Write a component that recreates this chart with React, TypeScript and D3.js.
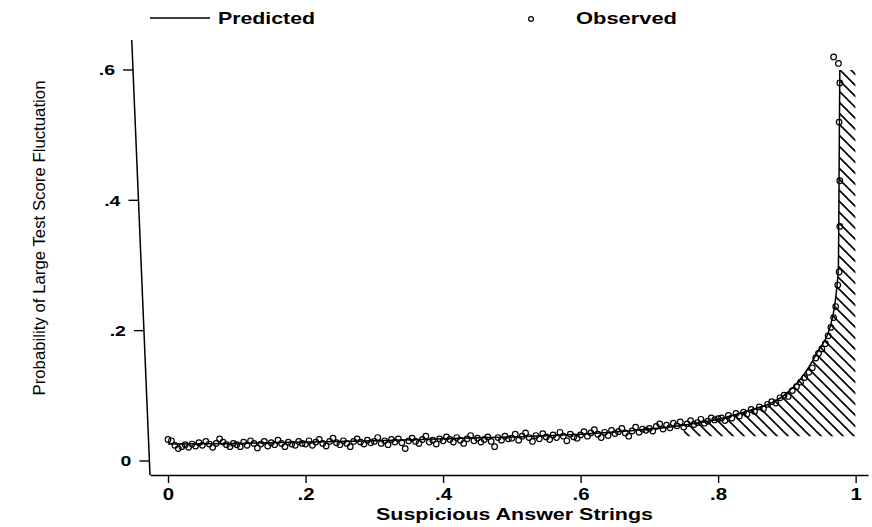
import React, { useEffect, useRef } from 'react';
import * as d3 from 'd3';

const width = 872;
const height = 527;

const xTicks = [0, 0.2, 0.4, 0.6, 0.8, 1];
const yTicks = [0, 0.2, 0.4, 0.6];

// predicted curve
const predictedX = [0, 0.1, 0.2, 0.3, 0.4, 0.5, 0.6, 0.7, 0.75, 0.8, 0.85, 0.875, 0.895, 0.92, 0.945, 0.964, 0.972, 0.975, 0.976, 0.977];
const predictedY = [0.026, 0.027, 0.029, 0.031, 0.034, 0.037, 0.041, 0.049, 0.055, 0.064, 0.079, 0.088, 0.1, 0.126, 0.168, 0.21, 0.26, 0.3, 0.45, 0.6];

// observed, x = 0 .. 0.80 in steps of .005
const observedStep = 0.005;
const observedBody = [
  0.033, 0.031, 0.024, 0.019, 0.022, 0.025, 0.021, 0.026, 0.023, 0.028, 0.024, 0.030, 0.026, 0.021, 0.027, 0.034, 0.029, 0.025, 0.022, 0.027,
  0.025, 0.022, 0.029, 0.024, 0.031, 0.027, 0.020, 0.026, 0.030, 0.023, 0.028, 0.025, 0.032, 0.027, 0.022, 0.029, 0.026, 0.024, 0.030, 0.027,
  0.026, 0.031, 0.024, 0.029, 0.033, 0.027, 0.023, 0.030, 0.035, 0.028, 0.025, 0.031, 0.027, 0.022, 0.030, 0.034, 0.029, 0.026, 0.032, 0.028,
  0.030, 0.036, 0.027, 0.031, 0.025, 0.033, 0.029, 0.034, 0.028, 0.019, 0.031, 0.035, 0.030, 0.027, 0.033, 0.038, 0.029, 0.032, 0.026, 0.034,
  0.031, 0.037, 0.033, 0.029, 0.036, 0.032, 0.027, 0.034, 0.039, 0.031, 0.035, 0.029, 0.033, 0.037, 0.030, 0.022, 0.036, 0.032, 0.038, 0.034,
  0.035, 0.041, 0.032, 0.038, 0.043, 0.036, 0.030, 0.039, 0.034, 0.042, 0.037, 0.033, 0.040, 0.036, 0.044, 0.038, 0.031, 0.041, 0.037, 0.035,
  0.040, 0.045, 0.038, 0.043, 0.048, 0.041, 0.036, 0.044, 0.039, 0.047, 0.042, 0.045, 0.050, 0.043, 0.038, 0.046, 0.052, 0.044, 0.049, 0.047,
  0.050, 0.046, 0.053, 0.057, 0.049, 0.055, 0.051, 0.058, 0.054, 0.060, 0.052, 0.057, 0.062, 0.056, 0.059, 0.064, 0.058, 0.061, 0.066, 0.063,
  0.065,
];
const observedTail = [
  [0.805, 0.066], [0.81, 0.062], [0.815, 0.07], [0.82, 0.066], [0.826, 0.073], [0.831, 0.069], [0.837, 0.075], [0.842, 0.072],
  [0.848, 0.079], [0.853, 0.076], [0.86, 0.083], [0.866, 0.08], [0.872, 0.087], [0.878, 0.091], [0.884, 0.089], [0.89, 0.097],
  [0.896, 0.101], [0.902, 0.099], [0.908, 0.108], [0.914, 0.114], [0.92, 0.121], [0.926, 0.128], [0.932, 0.136], [0.937, 0.143],
  [0.942, 0.158], [0.946, 0.165], [0.951, 0.172], [0.956, 0.18], [0.96, 0.192], [0.964, 0.205], [0.968, 0.22], [0.971, 0.237],
  [0.974, 0.27], [0.976, 0.29], [0.977, 0.36], [0.977, 0.43], [0.976, 0.52], [0.977, 0.58], [0.975, 0.61], [0.968, 0.62],
];

// hatched region: under the predicted curve, right of this x, above this level
const hatchFrom = 0.74;
const hatchBase = 0.038;

const font = '"Liberation Sans", Arial, sans-serif';

const fmt = (d: number) => (d === 0 ? '0' : d === 1 ? '1' : String(d).replace('0.', '.'));

// the scan is stretched sideways, so widen text to match
const widen = (sel: any, k: number) => {
  sel.each(function (this: SVGTextElement) {
    const w = this.getComputedTextLength();
    d3.select(this).attr('textLength', w * k).attr('lengthAdjust', 'spacingAndGlyphs');
  });
};

const App = () => {
  const svgRef = useRef<SVGSVGElement>(null);

  useEffect(() => {
    const svg = d3.select(svgRef.current);
    svg.selectAll('*').remove();

    const x = d3.scaleLinear().domain([-0.0262, 1.018]).range([150, 868]);
    const y = d3.scaleLinear().domain([-0.0215, 0.646]).range([475, 40]);

    const predicted = predictedX.map((v, i) => [v, predictedY[i]]);
    const observed = observedBody.map((v, i) => [i * observedStep, v]).concat(observedTail);

    // hatch pattern
    const defs = svg.append('defs');
    const pat = defs.append('pattern')
      .attr('id', 'hatch')
      .attr('patternUnits', 'userSpaceOnUse')
      .attr('width', 11)
      .attr('height', 11);
    pat.append('path')
      .attr('d', 'M-1,-1L12,12M-1,10L1,12M10,-1L12,1')
      .attr('stroke', '#000')
      .attr('stroke-width', 1.6);

    const hatchData = predicted.filter(d => d[0] >= hatchFrom - 0.02).concat([[1, 0.6]]);
    const area = d3.area()
      .x(d => x(d[0]))
      .y0(y(hatchBase))
      .y1(d => y(d[1]))
      .curve(d3.curveMonotoneX);
    defs.append('clipPath').attr('id', 'hclip')
      .append('rect')
      .attr('x', x(hatchFrom)).attr('y', 0)
      .attr('width', x(1) - x(hatchFrom)).attr('height', height);
    svg.append('path')
      .attr('d', area(hatchData))
      .attr('fill', 'url(#hatch)')
      .attr('clip-path', 'url(#hclip)');

    // predicted line
    const line = d3.line()
      .x(d => x(d[0]))
      .y(d => y(d[1]))
      .curve(d3.curveMonotoneX);
    svg.append('path')
      .attr('d', line(predicted))
      .attr('fill', 'none')
      .attr('stroke', '#000')
      .attr('stroke-width', 1.5);

    // observed points
    svg.append('g')
      .selectAll('circle')
      .data(observed)
      .enter()
      .append('circle')
      .attr('cx', d => x(d[0]))
      .attr('cy', d => y(d[1]))
      .attr('r', 2.8)
      .attr('fill', 'none')
      .attr('stroke', '#000')
      .attr('stroke-width', 1.2);

    // x axis
    const xAxis = d3.axisBottom(x).tickValues(xTicks).tickFormat(fmt).tickSize(8).tickSizeOuter(0);
    const gx = svg.append('g').attr('transform', 'translate(0,475)').call(xAxis);
    gx.select('.domain').attr('stroke', '#000').attr('stroke-width', 1.5);
    gx.selectAll('.tick line').attr('stroke', '#000').attr('stroke-width', 1.4);
    gx.selectAll('text')
      .attr('fill', '#000').attr('y', 25).attr('dy', 0)
      .style('font', `bold 17px ${font}`);
    widen(gx.selectAll('text'), 1.2);

    // y axis, leaning a little like the scanned original
    const lean = (py: number) => (py - 475) * 17 / 405;
    const yAxis = d3.axisLeft(y).tickValues(yTicks).tickFormat(fmt).tickSize(10).tickSizeOuter(0).tickPadding(8);
    const gy = svg.append('g').attr('transform', 'translate(150,0)').call(yAxis);
    gy.selectAll('.tick').attr('transform', (d: any) => `translate(${lean(y(d))},${y(d)})`);
    gy.select('.domain')
      .attr('d', `M${lean(40)},40L0,475`)
      .attr('stroke', '#000')
      .attr('stroke-width', 1.5);
    gy.selectAll('.tick line').attr('stroke', '#000').attr('stroke-width', 1.4);
    gy.selectAll('text')
      .attr('fill', '#000').attr('dy', '0.36em')
      .style('font', `bold 15px ${font}`);
    widen(gy.selectAll('text'), 1.3);

    // axis titles
    svg.append('text')
      .attr('x', 376).attr('y', 520)
      .attr('textLength', 277)
      .attr('lengthAdjust', 'spacingAndGlyphs')
      .style('font', `bold 16px ${font}`)
      .text('Suspicious Answer Strings');
    svg.append('text')
      .attr('transform', 'translate(45,238) rotate(-90)')
      .attr('text-anchor', 'middle')
      .attr('textLength', 315)
      .attr('lengthAdjust', 'spacingAndGlyphs')
      .style('font', `17px ${font}`)
      .text('Probability of Large Test Score Fluctuation');

    // legend
    const lg = svg.append('g');
    lg.append('line')
      .attr('x1', 150).attr('x2', 210).attr('y1', 18).attr('y2', 18)
      .attr('stroke', '#000').attr('stroke-width', 1.5);
    lg.append('text')
      .attr('x', 218).attr('y', 24)
      .attr('textLength', 97)
      .attr('lengthAdjust', 'spacingAndGlyphs')
      .style('font', `bold 17px ${font}`)
      .text('Predicted');
    lg.append('circle')
      .attr('cx', 531).attr('cy', 19).attr('r', 2.4)
      .attr('fill', 'none').attr('stroke', '#000').attr('stroke-width', 1.2);
    lg.append('text')
      .attr('x', 576).attr('y', 24)
      .attr('textLength', 101)
      .attr('lengthAdjust', 'spacingAndGlyphs')
      .style('font', `bold 17px ${font}`)
      .text('Observed');
  }, []);

  return (
    <svg ref={svgRef} width={width} height={height}
      style={{ position: 'absolute', left: 0, top: 0, background: '#fff' }} />
  );
};

export default App;
